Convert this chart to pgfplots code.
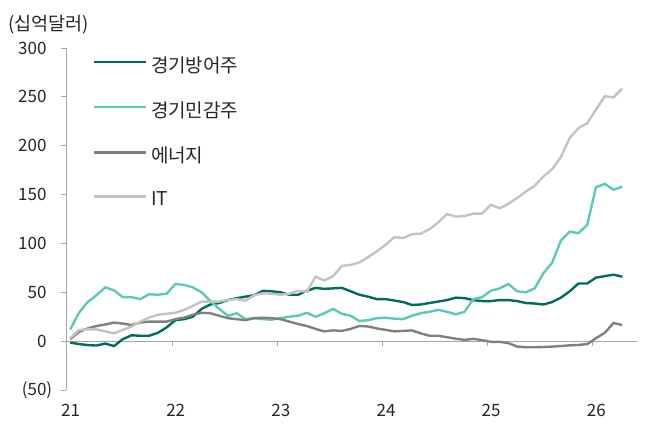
\documentclass[border=0pt]{standalone}
\usepackage{fontspec}
\setmainfont{Noto Sans CJK KR}
\usepackage{pgfplots}
\pgfplotsset{compat=1.18}
\usepackage{pgfplotstable}

\definecolor{cdef}{HTML}{006B5F}
\definecolor{ccyc}{HTML}{5CC9B9}
\definecolor{cene}{HTML}{808080}
\definecolor{cit}{HTML}{C3C3C3}
\definecolor{axgray}{HTML}{A6A6A6}
\newcommand{\negfifty}{(50\rlap{)}}

\pgfplotstableread{
i def cyc ene it
0 -1.5 12 2 3
1 -3 29 9.5 11.5
2 -4 40 13 12
3 -4.5 47 15.5 12
4 -2.5 55 17 10
5 -5 52 19 8
6 2 45 18 11.5
7 6 45 16.5 15
8 5.5 43 19 20
9 5.5 48 20 24
10 8.5 47.5 20 27
11 14 48.5 20 28
12 21.5 58.5 22.5 29
13 22.5 57.5 24 32
14 25 55 27 36
15 33 50 29 40.5
16 37.5 41 28.5 40.5
17 39 33 26 40.5
18 42 26 23.5 42
19 44 28.5 22.5 43
20 45.5 22.5 21.5 41.5
21 47 23.5 23.5 47
22 51.5 22.5 24 49
23 51 22 23.5 48.5
24 50 23.5 22.5 47.5
25 47.5 25 20 48.5
26 47.5 26 17.5 51.5
27 51.5 29 15.5 50.5
28 54.5 25 12.5 66
29 53.5 28.5 10 62
30 54 33 11 66.5
31 54.5 28 10.5 77
32 51 26 12.5 78
33 47.5 20.5 15.5 80.5
34 45.5 21.5 15 86
35 43 23.5 13 92
36 43 24 11.5 98.5
37 41.5 23 10 106.5
38 40 22.5 10.5 105.5
39 37 26 11 109.5
40 37.5 28.5 8 110
41 39 30 5.5 114.5
42 40.5 32 5.5 121.5
43 42 30 4 130
44 44.5 27.5 2.5 127.5
45 44 30 1.3 128
46 42 43 2.3 130.5
47 41 45 1 130.5
48 41 51.5 -0.7 139.5
49 42 54 -0.7 136
50 42 58.5 -2 140.5
51 41 51 -5.5 146.5
52 39 50 -6.3 153
53 38.5 54 -6.3 159
54 37.5 69.5 -6 168.5
55 40 80.5 -5.6 176
56 44.5 103 -5 188.5
57 51 112 -4.3 208
58 59 110.5 -3.9 218
59 59 119 -3 223
60 65 157.5 3 237
61 66.5 161 8.5 250.5
62 68 155 18.5 249.5
63 66 158 16.5 258.5
}\data

\begin{document}
\begin{tikzpicture}
\begin{axis}[
  scale only axis, width=571pt, height=342pt,
  xmin=20.99, xmax=26.42, ymin=-50, ymax=300,
  axis x line*=bottom, axis y line*=left,
  x axis line style={draw=none},
  y axis line style={axgray, line width=0.8pt},
  xtick={21,22,23,24,25,26},
  xticklabels={21,22,23,24,25,26},
  xtick style={draw=none},
  ytick={-50,0,50,100,150,200,250,300},
  yticklabels={{\negfifty},0,50,100,150,200,250,300},
  ytick style={axgray, line width=0.8pt},
  tick align=outside, major tick length=5pt,
  tick label style={font=\fontsize{17}{20}\selectfont, text=black!85},
  xticklabel style={yshift=-6pt, xshift=3.5pt},
  yticklabel style={xshift=-11pt},
  /pgf/number format/assume math mode=true,
  legend cell align=left,
  legend style={draw=none, fill=none, at={(rel axis cs:0.041,0.985)}, anchor=north west,
    font=\fontsize{19}{22}\selectfont, row sep=26pt, column sep=3pt,
    nodes={inner sep=1pt, text=black!85}},
  legend image code/.code={\draw[#1] (0pt,0.3em) -- (52pt,0.3em);},
  clip=false,
]
\draw[axgray, line width=0.8pt] (axis cs:20.99,0) -- (axis cs:26.42,0);
\pgfplotsinvokeforeach{22,23,24,25,26}{\draw[axgray, line width=0.8pt] (axis cs:#1,0) -- ([yshift=-5pt]axis cs:#1,0);}
\addplot[cdef, line width=2.4pt] table[x expr=21.03+\thisrow{i}/12, y=def] {\data};
\addlegendentry{경기방어주}
\addplot[ccyc, line width=2.4pt] table[x expr=21.03+\thisrow{i}/12, y=cyc] {\data};
\addlegendentry{경기민감주}
\addplot[cene, line width=2.4pt] table[x expr=21.03+\thisrow{i}/12, y=ene] {\data};
\addlegendentry{에너지}
\addplot[cit, line width=2.4pt] table[x expr=21.03+\thisrow{i}/12, y=it] {\data};
\addlegendentry{IT}
\node[anchor=west, inner sep=0pt, font=\fontsize{18.5}{21}\selectfont, text=black!85] at (rel axis cs:0,1) [xshift=-58pt, yshift=23pt] {(십억달러)};
\end{axis}
\pgfresetboundingbox
\path (-66pt,-35pt) rectangle (585pt,390pt);
\end{tikzpicture}
\end{document}
